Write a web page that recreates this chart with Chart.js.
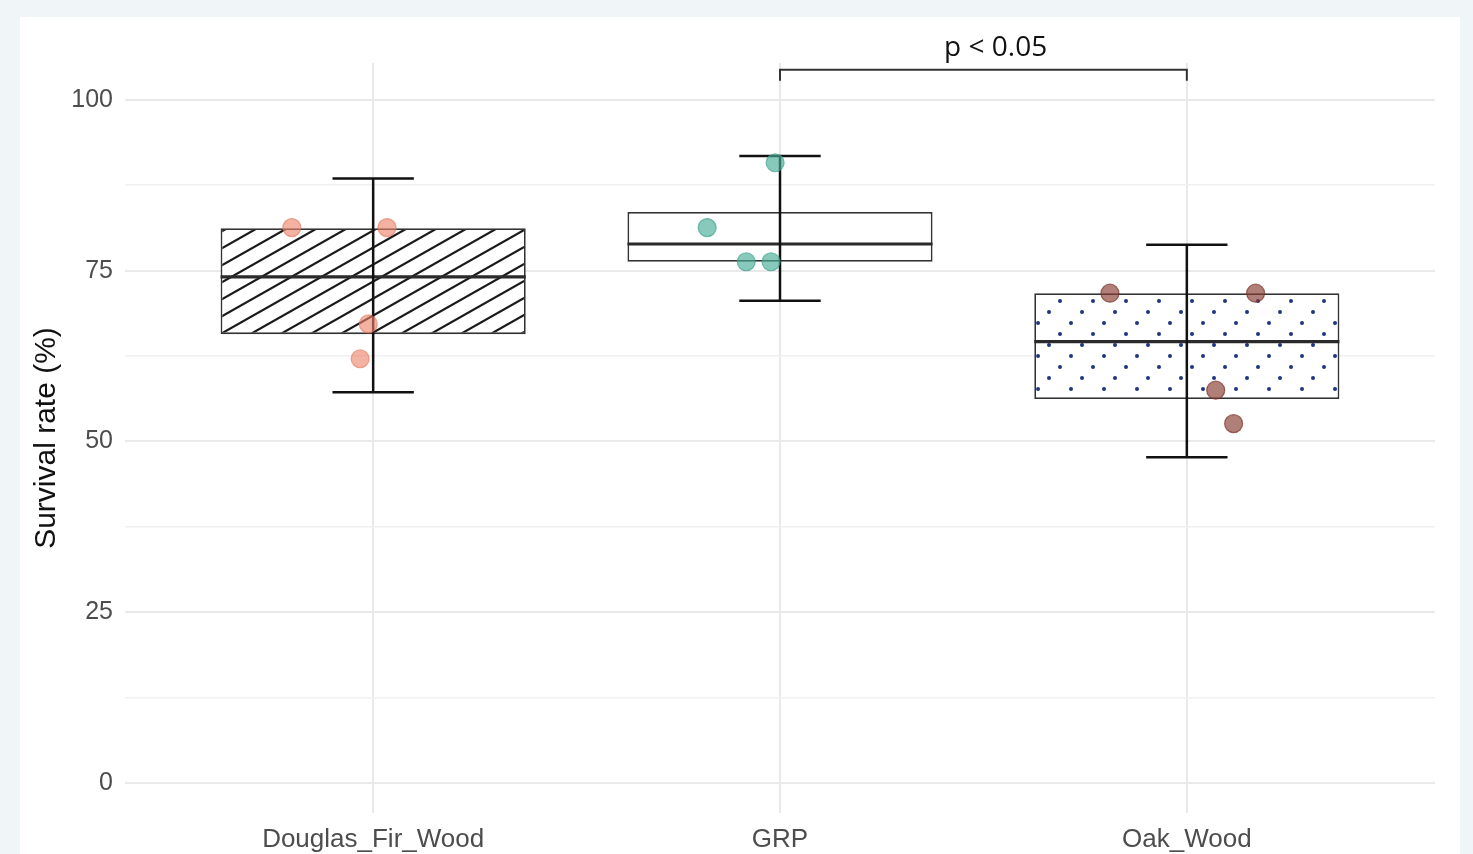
<!DOCTYPE html>
<html>
  <head>
    <script src="https://cdn.jsdelivr.net/npm/chart.js"></script>
    <style>
      body {
        margin: 0;
        background: #f0f5f8;
        width: 1473px;
        height: 854px;
        overflow: hidden;
        position: relative;
      }
      .panel {
        position: absolute;
        left: 20px;
        top: 17px;
        width: 1440px;
        height: 837px;
        background: white;
      }
      canvas {
        position: absolute;
        left: 0;
        top: 0;
      }
    </style>
  </head>
  <body>
    <div class="panel"></div>
    <canvas id="survivalChart" width="1473" height="854"></canvas>

    <script>
      // categories and summary values
      const categories = ['Douglas_Fir_Wood', 'GRP', 'Oak_Wood'];
      const q1 = [65.7, 76.3, 56.2];
      const median = [74.1, 78.9, 64.6];
      const q3 = [81.2, 83.6, 71.7];
      const whiskerLow = [57.2, 70.6, 47.7];
      const whiskerHigh = [88.5, 91.8, 78.8];

      // individual observations (jittered x offset from category centre)
      const douglasY = [81.3, 81.3, 67.2, 62.1];
      const douglasJitter = [-0.20, 0.034, -0.012, -0.032];
      const grpY = [90.8, 81.3, 76.3, 76.3];
      const grpJitter = [-0.012, -0.179, -0.083, -0.022];
      const oakY = [71.7, 71.7, 57.5, 52.6];
      const oakJitter = [-0.189, 0.169, 0.071, 0.115];

      const yTicks = [0, 12.5, 25, 37.5, 50, 62.5, 75, 87.5, 100];

      // significance bracket between GRP and Oak_Wood
      const bracketPair = [1, 2];
      const bracketY = 104.4;
      const bracketDrop = 1.6;
      const bracketLabel = 'p < 0.05';
      const bracketLabelX = 1.53;

      const BOX_HALF = 0.375;
      const CAP_HALF = 0.1;

      function hatchPattern() {
        const c = document.createElement('canvas');
        c.width = 30; c.height = 17;
        const g = c.getContext('2d');
        g.fillStyle = '#ffffff';
        g.fillRect(0, 0, 30, 17);
        g.strokeStyle = '#1a1a1a';
        g.lineWidth = 2.2;
        for (let k = -1; k <= 1; k++) {
          g.beginPath();
          g.moveTo(-2, 17 + 17 * k + 17 / 15);
          g.lineTo(32, 17 * k - 17 / 15);
          g.stroke();
        }
        return g.createPattern(c, 'repeat');
      }

      function dotPattern() {
        const c = document.createElement('canvas');
        c.width = 33; c.height = 33;
        const g = c.getContext('2d');
        g.fillStyle = '#ffffff';
        g.fillRect(0, 0, 33, 33);
        g.fillStyle = '#1f3580';
        [[4, 4], [26, 15], [15, 26]].forEach(([x, y]) => {
          g.beginPath();
          g.arc(x, y, 2, 0, Math.PI * 2);
          g.fill();
        });
        return g.createPattern(c, 'repeat');
      }

      const boxFills = [hatchPattern(), '#ffffff', dotPattern()];

      const whiskerData = [];
      const medianData = [];
      categories.forEach((c, i) => {
        whiskerData.push({x: i, y: whiskerLow[i]}, {x: i, y: whiskerHigh[i]}, {x: i, y: null});
        whiskerData.push({x: i - CAP_HALF, y: whiskerHigh[i]}, {x: i + CAP_HALF, y: whiskerHigh[i]}, {x: i, y: null});
        whiskerData.push({x: i - CAP_HALF, y: whiskerLow[i]}, {x: i + CAP_HALF, y: whiskerLow[i]}, {x: i, y: null});
        medianData.push({x: i - BOX_HALF, y: median[i]}, {x: i + BOX_HALF, y: median[i]}, {x: i, y: null});
      });

      const pts = (ys, jit, i) => ys.map((y, k) => ({x: i + jit[k], y: y}));

      const bracketData = [
        {x: bracketPair[0], y: bracketY - bracketDrop},
        {x: bracketPair[0], y: bracketY},
        {x: bracketPair[1], y: bracketY},
        {x: bracketPair[1], y: bracketY - bracketDrop}
      ];

      const pLabelPlugin = {
        id: 'pLabel',
        afterDraw(chart) {
          const {ctx, scales: {x, y}} = chart;
          ctx.save();
          ctx.font = '28px "Open Sans"';
          ctx.fillStyle = '#111';
          ctx.textAlign = 'center';
          ctx.textBaseline = 'alphabetic';
          ctx.fillText(bracketLabel, x.getPixelForValue(bracketLabelX), y.getPixelForValue(bracketY) - 14);
          ctx.restore();
        }
      };

      const lineDefaults = {type: 'line', pointRadius: 0, fill: false, tension: 0, spanGaps: false};
      const pointDefaults = {type: 'scatter', pointRadius: 9, pointHoverRadius: 9, borderWidth: 1.2};

      new Chart(document.getElementById('survivalChart'), {
        type: 'scatter',
        data: {
          datasets: [
            {
              type: 'bar',
              data: categories.map((c, i) => ({x: i, y: [q1[i], q3[i]]})),
              backgroundColor: boxFills,
              borderColor: '#333',
              borderWidth: 1.8,
              borderSkipped: false,
              barPercentage: BOX_HALF * 2,
              categoryPercentage: 1,
              order: 5
            },
            Object.assign({}, lineDefaults, {data: medianData, borderColor: '#2a2a2a', borderWidth: 3.2, order: 4}),
            Object.assign({}, lineDefaults, {data: whiskerData, borderColor: '#111', borderWidth: 2.5, order: 3}),
            Object.assign({}, pointDefaults, {data: pts(douglasY, douglasJitter, 0), backgroundColor: 'rgba(235,130,105,0.62)', borderColor: 'rgba(225,115,90,0.6)', order: 1}),
            Object.assign({}, pointDefaults, {data: pts(grpY, grpJitter, 1), backgroundColor: 'rgba(70,172,150,0.65)', borderColor: 'rgba(60,160,140,0.65)', order: 1}),
            Object.assign({}, pointDefaults, {data: pts(oakY, oakJitter, 2), backgroundColor: 'rgba(135,60,50,0.66)', borderColor: 'rgba(125,50,40,0.7)', order: 1}),
            Object.assign({}, lineDefaults, {data: bracketData, borderColor: '#333', borderWidth: 2, order: 0})
          ]
        },
        options: {
          responsive: false,
          animation: false,
          layout: {padding: {top: 63, right: 38, bottom: 0, left: 0}},
          plugins: {legend: {display: false}, tooltip: {enabled: false}},
          scales: {
            x: {
              type: 'linear',
              min: -0.61,
              max: 2.61,
              offset: false,
              afterBuildTicks: axis => { axis.ticks = categories.map((c, i) => ({value: i})); },
              afterFit: axis => { axis.height = 41; },
              ticks: {
                callback: v => categories[v],
                color: '#4d4d4d',
                font: {family: 'Liberation Sans', size: 26},
                padding: 11,
                maxRotation: 0,
                autoSkip: false
              },
              grid: {color: '#e9e9e9', lineWidth: 2, drawTicks: false, offset: false},
              border: {display: false}
            },
            y: {
              min: -4.4,
              max: 105.4,
              afterBuildTicks: axis => { axis.ticks = yTicks.map(v => ({value: v})); },
              afterFit: axis => { axis.width = 125; },
              ticks: {
                callback: v => (v % 25 === 0 ? v : ''),
                color: '#4d4d4d',
                font: {family: 'Liberation Sans', size: 25},
                padding: 12
              },
              grid: {
                color: c => (c.tick && c.tick.value % 25 === 0 ? '#e9e9e9' : '#f0f0f0'),
                lineWidth: c => (c.tick && c.tick.value % 25 === 0 ? 2 : 1.6),
                drawTicks: false
              },
              border: {display: false},
              title: {
                display: true,
                text: 'Survival rate (%)',
                color: '#111',
                font: {family: 'Liberation Sans', size: 30},
                padding: {top: 29, bottom: 0}
              }
            }
          }
        },
        plugins: [pLabelPlugin]
      });
    </script>
  </body>
</html>
